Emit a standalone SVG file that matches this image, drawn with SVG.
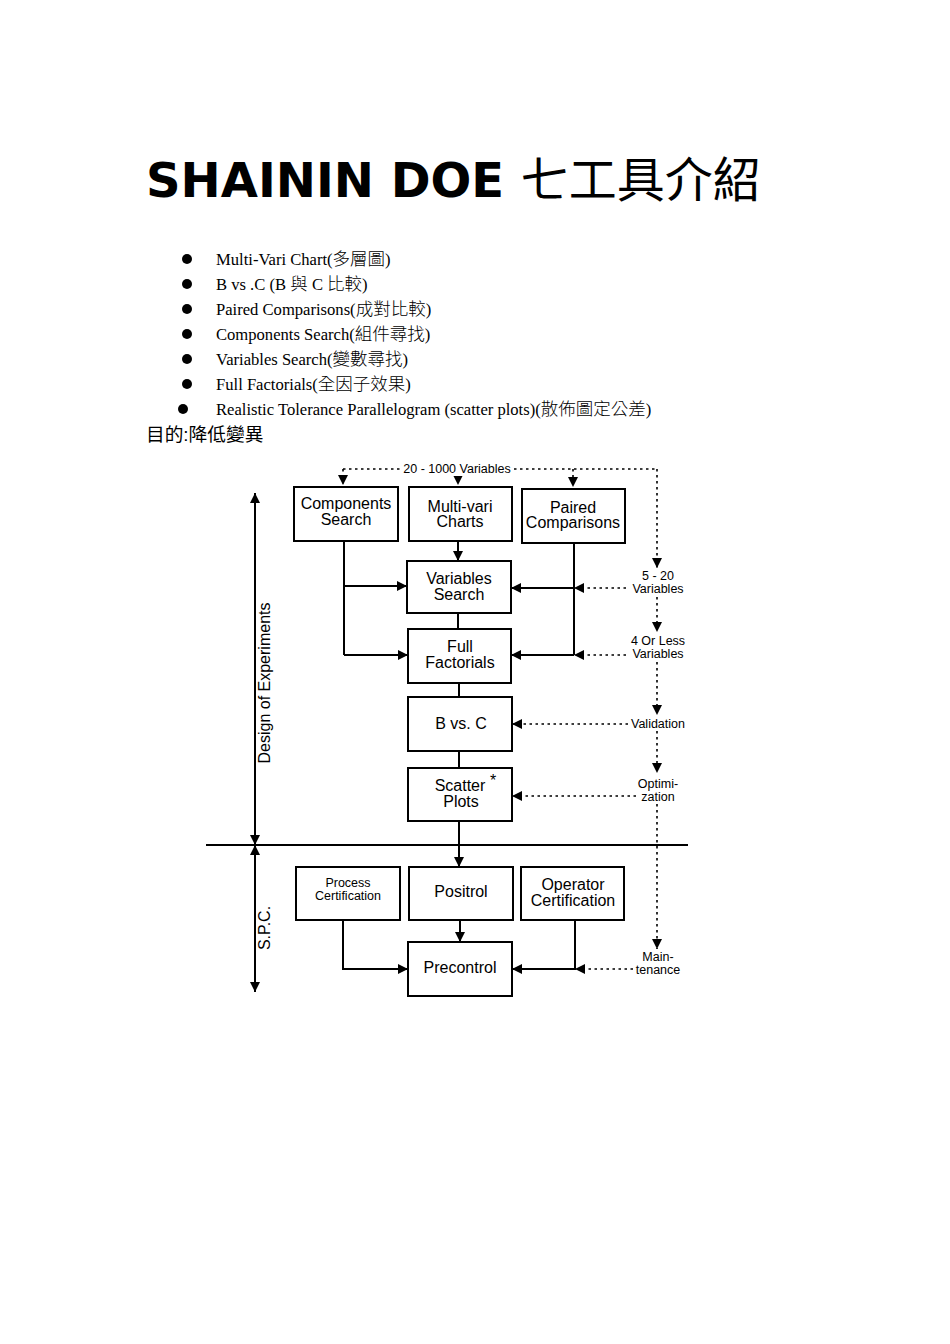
<svg xmlns="http://www.w3.org/2000/svg" width="950" height="1344" viewBox="0 0 950 1344">
<defs>
<style>
.title{font-family:"DejaVu Sans","Noto Sans CJK TC",sans-serif;font-size:48px;font-weight:bold;fill:#000}
.cjkt{font-weight:normal}
.li{font-family:"Liberation Serif","Noto Sans CJK TC",serif;font-size:16.6px;fill:#000}
.cj{font-size:17.5px;font-weight:300}
.goal{font-family:"Liberation Sans","Noto Sans CJK TC",sans-serif;font-size:18.7px;fill:#000}
.bt{font-family:"Liberation Sans",Arial,sans-serif;font-size:16px;fill:#000;text-anchor:middle}
.sm{font-size:12.5px}
.lb{font-family:"Liberation Sans",Arial,sans-serif;font-size:12.5px;fill:#000;text-anchor:middle}
.box{fill:#fff;stroke:#000;stroke-width:2}
.ln{fill:none;stroke:#000;stroke-width:2}
.dt{fill:none;stroke:#000;stroke-width:1.6;stroke-dasharray:2.5 3.5}
</style>
<marker id="ah" markerWidth="10" markerHeight="10" refX="10" refY="5" orient="auto" markerUnits="userSpaceOnUse">
<path d="M0,0 L10,5 L0,10 Z" fill="#000"/>
</marker>
</defs>
<rect width="950" height="1344" fill="#fff"/>

<text class="title" x="146" y="197">SHAININ DOE <tspan class="cjkt">七工具介紹</tspan></text>

<g id="bullets">
<circle cx="187" cy="259" r="5"/><text class="li" x="216" y="265">Multi-Vari Chart(<tspan class="cj">多層圖</tspan>)</text>
<circle cx="187" cy="284" r="5"/><text class="li" x="216" y="290">B vs .C (B <tspan class="cj">與</tspan> C <tspan class="cj">比較</tspan>)</text>
<circle cx="187" cy="309" r="5"/><text class="li" x="216" y="315">Paired Comparisons(<tspan class="cj">成對比較</tspan>)</text>
<circle cx="187" cy="334" r="5"/><text class="li" x="216" y="340">Components Search(<tspan class="cj">組件尋找</tspan>)</text>
<circle cx="187" cy="359" r="5"/><text class="li" x="216" y="365">Variables Search(<tspan class="cj">變數尋找</tspan>)</text>
<circle cx="187" cy="384" r="5"/><text class="li" x="216" y="390">Full Factorials(<tspan class="cj">全因子效果</tspan>)</text>
<circle cx="183" cy="409" r="5"/><text class="li" x="216" y="415">Realistic Tolerance Parallelogram (scatter plots)(<tspan class="cj">散佈圖定公差</tspan>)</text>
</g>
<text class="goal" x="146" y="441">目的:降低變異</text>

<g id="connectors">
<path class="dt" d="M343,469 H400 M514,469 H657"/>
<path class="dt" d="M343,469 V485" marker-end="url(#ah)"/>
<path class="dt" d="M458,474 V485" marker-end="url(#ah)"/>
<path class="dt" d="M573,469 V487" marker-end="url(#ah)"/>
<path class="dt" d="M657,469 V568" marker-end="url(#ah)"/>
<path class="dt" d="M657,597 V632" marker-end="url(#ah)"/>
<path class="dt" d="M657,662 V715" marker-end="url(#ah)"/>
<path class="dt" d="M657,731 V773" marker-end="url(#ah)"/>
<path class="dt" d="M657,804 V949" marker-end="url(#ah)"/>
<path class="dt" d="M626,588 H574" marker-end="url(#ah)"/>
<path class="dt" d="M626,655 H574" marker-end="url(#ah)"/>
<path class="dt" d="M628,724 H512" marker-end="url(#ah)"/>
<path class="dt" d="M636,796 H512" marker-end="url(#ah)"/>
<path class="dt" d="M633,969 H575" marker-end="url(#ah)"/>
<path class="ln" d="M344,541 V655"/>
<path class="ln" d="M344,586 H407" marker-end="url(#ah)"/>
<path class="ln" d="M344,655 H408" marker-end="url(#ah)"/>
<path class="ln" d="M458,541 V561" marker-end="url(#ah)"/>
<path class="ln" d="M574,543 V655"/>
<path class="ln" d="M574,588 H511" marker-end="url(#ah)"/>
<path class="ln" d="M574,655 H511" marker-end="url(#ah)"/>
<path class="ln" d="M458,613 V629"/>
<path class="ln" d="M459,683 V697"/>
<path class="ln" d="M459,751 V768"/>
<path class="ln" d="M459,821 V867" marker-end="url(#ah)"/>
<path class="ln" d="M206,845 H688"/>
<path class="ln" d="M255,845 V493" marker-end="url(#ah)"/>
<path class="ln" d="M255,497 V845" marker-end="url(#ah)"/>
<path class="ln" d="M255,992 V845" marker-end="url(#ah)"/>
<path class="ln" d="M255,848 V992" marker-end="url(#ah)"/>
<path class="ln" d="M343,920 V969 H408" marker-end="url(#ah)"/>
<path class="ln" d="M460,920 V942" marker-end="url(#ah)"/>
<path class="ln" d="M575,920 V969 H512" marker-end="url(#ah)"/>
</g>

<g id="labels">
<rect x="400" y="460" width="114" height="16" fill="#fff"/>
<text class="lb" x="457" y="473">20 - 1000 Variables</text>
<text class="lb" x="658" y="580">5 - 20</text>
<text class="lb" x="658" y="593">Variables</text>
<text class="lb" x="658" y="645">4 Or Less</text>
<text class="lb" x="658" y="658">Variables</text>
<text class="lb" x="658" y="728">Validation</text>
<text class="lb" x="658" y="788">Optimi-</text>
<text class="lb" x="658" y="801">zation</text>
<text class="lb" x="658" y="961">Main-</text>
<text class="lb" x="658" y="974">tenance</text>
<text class="bt" transform="translate(270,683) rotate(-90)" font-size="14.5">Design of Experiments</text>
<text class="bt" transform="translate(270,928) rotate(-90)" font-size="14.5">S.P.C.</text>
</g>

<g id="components-search"><rect class="box" x="294" y="487" width="104" height="54"/><text class="bt" x="346" y="509">Components</text><text class="bt" x="346" y="525">Search</text></g>
<g id="multi-vari"><rect class="box" x="409" y="487" width="103" height="54"/><text class="bt" x="460" y="512">Multi-vari</text><text class="bt" x="460" y="527">Charts</text></g>
<g id="paired"><rect class="box" x="522" y="489" width="103" height="54"/><text class="bt" x="573" y="513">Paired</text><text class="bt" x="573" y="528">Comparisons</text></g>
<g id="variables-search"><rect class="box" x="407" y="561" width="104" height="52"/><text class="bt" x="459" y="584">Variables</text><text class="bt" x="459" y="600">Search</text></g>
<g id="full-factorials"><rect class="box" x="408" y="629" width="103" height="54"/><text class="bt" x="460" y="652">Full</text><text class="bt" x="460" y="668">Factorials</text></g>
<g id="b-vs-c"><rect class="box" x="408" y="697" width="104" height="54"/><text class="bt" x="461" y="729">B vs. C</text></g>
<g id="scatter-plots"><rect class="box" x="408" y="768" width="104" height="53"/><text class="bt" x="460" y="791">Scatter</text><text class="bt" x="493" y="786" font-size="13">*</text><text class="bt" x="461" y="807">Plots</text></g>
<g id="process-cert"><rect class="box" x="296" y="867" width="104" height="53"/><text class="bt sm" x="348" y="887">Process</text><text class="bt sm" x="348" y="900">Certification</text></g>
<g id="positrol"><rect class="box" x="409" y="867" width="104" height="53"/><text class="bt" x="461" y="897">Positrol</text></g>
<g id="operator-cert"><rect class="box" x="521" y="867" width="103" height="53"/><text class="bt" x="573" y="890">Operator</text><text class="bt" x="573" y="906">Certification</text></g>
<g id="precontrol"><rect class="box" x="408" y="942" width="104" height="54"/><text class="bt" x="460" y="973">Precontrol</text></g>
</svg>
